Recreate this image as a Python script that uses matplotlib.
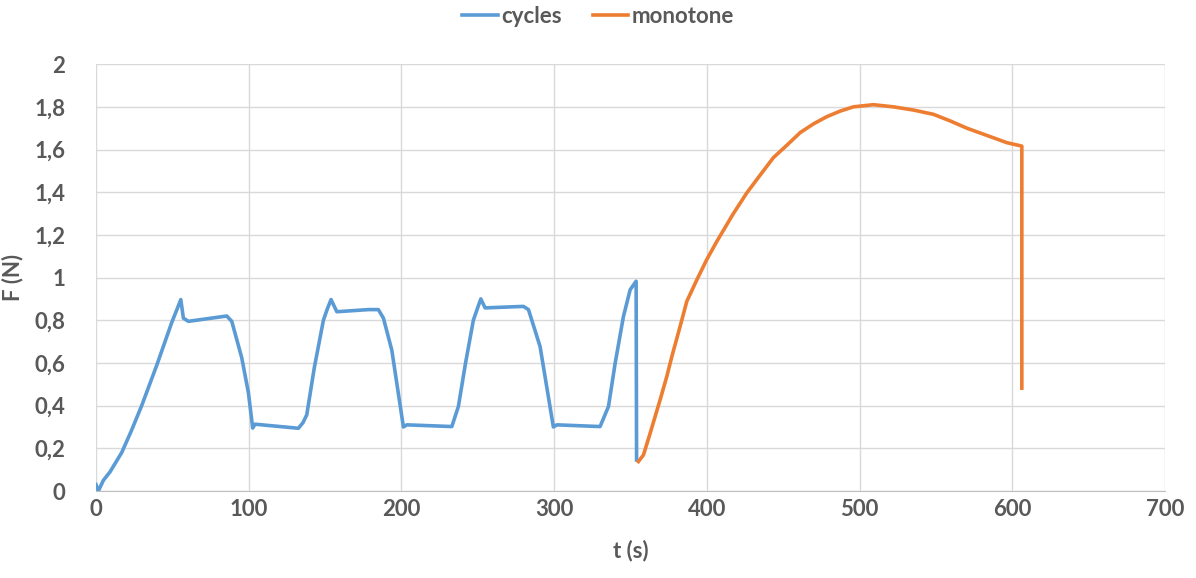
import numpy as np
import matplotlib.pyplot as plt

# cyclic loading, then monotone loading until rupture
t_cycles = [0, 1.5, 4.8, 9.2, 16.8, 23.0, 29.9, 39.8, 49.6, 53.5, 55.5, 57.2, 60.5, 85.6,
            88.9, 95.4, 99.8, 102.6, 104.1, 132.5, 135.5, 138.0, 143.0, 148.9, 151.3,
            153.9, 157.7, 178.4, 184.9, 188.2, 193.7, 201.3, 203.5, 233.0, 237.3, 242.0,
            247.1, 250.0, 252.0, 254.8, 279.9, 283.2, 290.8, 299.5, 301.8, 330.1, 335.6,
            340.0, 345.4, 349.8, 353.7, 354.0]
F_cycles = [0.03, 0.0, 0.05, 0.09, 0.18, 0.28, 0.40, 0.59, 0.79, 0.86, 0.897, 0.81, 0.795,
            0.82, 0.795, 0.625, 0.46, 0.295, 0.313, 0.294, 0.32, 0.357, 0.58, 0.80, 0.85,
            0.897, 0.84, 0.85, 0.85, 0.81, 0.66, 0.30, 0.31, 0.302, 0.396, 0.60,
            0.80, 0.86, 0.90, 0.858, 0.865, 0.85, 0.677, 0.30, 0.31, 0.302, 0.396,
            0.60, 0.818, 0.943, 0.983, 0.146]

t_mono = [355.2, 358.5, 362.9, 369.4, 373.8, 377.1, 382.5, 386.9, 393.5, 400.0, 406.6,
          417.4, 426.2, 434.9, 443.6, 452.4, 461.1, 469.8, 478.6, 487.3, 496.0, 509.1,
          522.2, 535.3, 548.4, 559.4, 570.3, 587.7, 596.5, 606.3, 606.3]
F_mono = [0.138, 0.169, 0.271, 0.427, 0.537, 0.63, 0.771, 0.889, 0.99, 1.085, 1.17,
          1.30, 1.397, 1.48, 1.562, 1.62, 1.679, 1.72, 1.754, 1.78, 1.80, 1.81,
          1.80, 1.785, 1.765, 1.734, 1.70, 1.655, 1.632, 1.616, 0.482]

grey = "#595959"
plt.rcParams['font.family'] = ['Lato', 'DejaVu Sans']

fig = plt.figure(figsize=(11.96, 5.78), dpi=100)
ax = fig.add_axes([0.0803, 0.1505, 0.8937, 0.7385])

ax.plot(t_cycles, F_cycles, color="#5b9bd5", lw=2.6, label="cycles", solid_joinstyle="round")
ax.plot(t_mono, F_mono, color="#ed7d31", lw=2.6, label="monotone", solid_joinstyle="round")

ax.set_xlim(0, 700)
ax.set_ylim(0, 2)
yt = np.round(np.arange(0, 2.01, 0.2), 1)
ax.set_xticks(np.arange(0, 701, 100))
ax.set_yticks(yt)
ax.set_yticklabels([f"{v:g}".replace(".", ",") for v in yt])
ax.grid(True, color="#d9d9d9", lw=1)
ax.set_axisbelow(True)
for s in ["top", "right", "left"]:
    ax.spines[s].set_visible(False)
ax.spines["bottom"].set_color("#bfbfbf")
ax.tick_params(axis="y", pad=22)
ax.tick_params(axis="x", pad=6)
ax.tick_params(length=0, colors=grey, labelsize=16)
for lab in ax.get_xticklabels() + ax.get_yticklabels():
    lab.set_fontweight("bold")

ax.set_xlabel("t (s)", fontsize=16, fontweight="bold", color=grey, labelpad=14)
ax.set_ylabel("F (N)", fontsize=16, fontweight="bold", color=grey, labelpad=8)

leg = fig.legend(loc="upper center", bbox_to_anchor=(0.5, 1.025), ncol=2, frameon=False,
                 fontsize=16, handlelength=1.6, handletextpad=0.15, columnspacing=1.4)
for txt in leg.get_texts():
    txt.set_color(grey)
    txt.set_fontweight("bold")

fig.savefig("out.png", dpi=100)
